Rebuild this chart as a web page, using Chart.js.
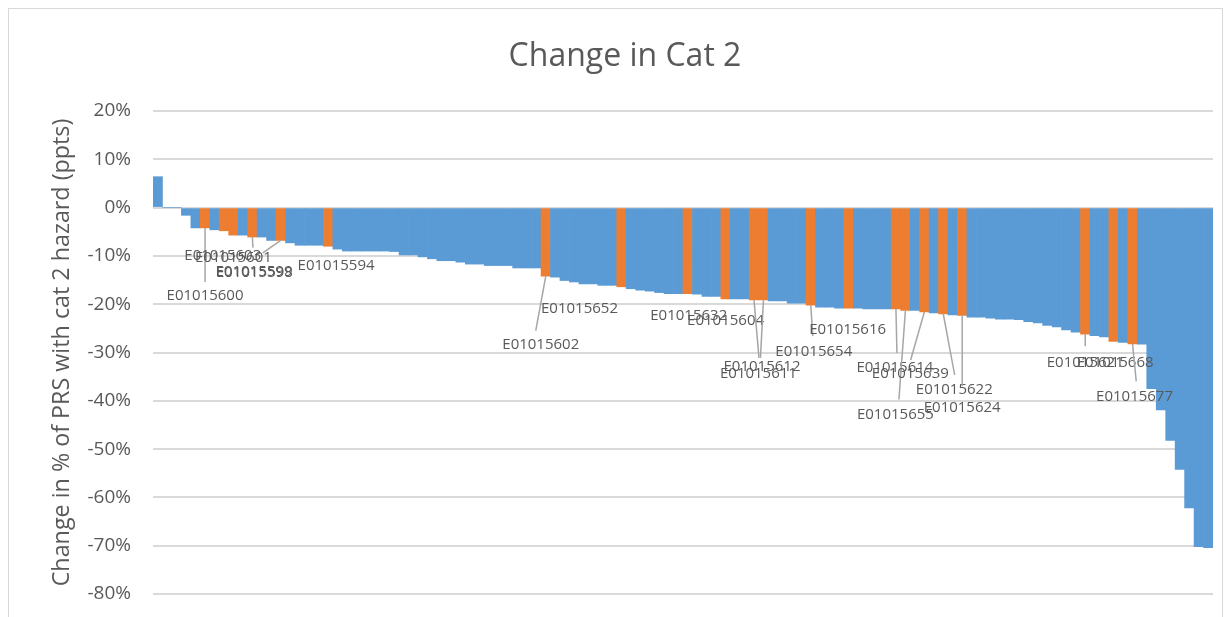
<!DOCTYPE html>
<html>
<head>
<meta charset="utf-8">
<title>Change in Cat 2</title>
<script src="https://cdn.jsdelivr.net/npm/chart.js@4.4.0/dist/chart.umd.min.js"></script>
<style>
  html, body { margin: 0; padding: 0; background: #fff; overflow: hidden; }
  canvas { display: block; }
</style>
</head>
<body>
<canvas id="chart" width="1231" height="617"></canvas>
<script>
// change in % of PRS with cat 2 hazard (ppts), one bar per area, sorted
const values = [
  6.4, 0, 0, -1.6, -4.2, -4.2, -4.6, -4.8, -5.7, -5.7,
  -6.1, -6.1, -6.8, -6.8, -7.3, -7.8, -7.8, -7.8, -8.0, -8.6,
  -9.0, -9.0, -9.0, -9.0, -9.0, -9.1, -9.8, -9.8, -10.2, -10.6,
  -11.0, -11.0, -11.3, -11.7, -11.7, -12.0, -12.0, -12.0, -12.5, -12.5,
  -12.5, -14.2, -14.4, -15.1, -15.4, -15.8, -15.8, -16.1, -16.1, -16.4,
  -16.8, -17.1, -17.3, -17.6, -17.8, -17.8, -17.8, -17.9, -18.4, -18.4,
  -18.9, -18.9, -18.9, -19.1, -19.1, -19.3, -19.3, -19.8, -19.8, -20.2,
  -20.6, -20.6, -20.8, -20.8, -20.8, -21.0, -21.0, -21.0, -21.0, -21.3,
  -21.3, -21.6, -21.8, -22.0, -22.2, -22.3, -22.7, -22.7, -22.9, -23.1,
  -23.1, -23.2, -23.6, -23.9, -24.4, -24.7, -25.3, -25.8, -26.2, -26.5,
  -26.8, -27.7, -27.9, -28.2, -28.3, -37.5, -41.9, -48.2, -54.2, -62.2,
  -70.2, -70.4
];
const categories = values.map(() => '');

// highlighted areas (orange) and their codes
const highlightIdx = [5, 7, 8, 10, 13, 18, 41, 49, 56, 60, 63, 64, 69, 73, 78, 79, 81, 83, 85, 98, 101, 103];
const highlightNames = [
  'E01015600', 'E01015599', 'E01015598', 'E01015601', 'E01015603', 'E01015594',
  'E01015602', 'E01015652', 'E01015632', 'E01015604', 'E01015612', 'E01015611',
  'E01015654', 'E01015616', 'E01015614', 'E01015655', 'E01015639', 'E01015622',
  'E01015624', 'E01015621', 'E01015668', 'E01015677'
];

const yMin = -80, yMax = 20, yStep = 10;

// label placement: [dx, dy] of label centre from bar end, [lx, ly] leader end (null = no leader)
const labelPlace = [
  [0, 68, 0, 54], [30, 41, null, null], [21, 38, null, null], [-19, 21, 0.6, 10.6],
  [-58, 15, -18, 12.5], [8, 19, null, null],
  [-5, 68.5, -10, 54.5], [-42, 22, null, null], [1, 22, null, null], [0, 22, null, null],
  [8, 67, 5, 58], [-5, 74, -3, 58], [3, 46.5, 2, 31], [-1, 22, null, null],
  [-1, 59, 1, 44], [-10, 104, -6.5, 89], [-14, 62, -13.7, 48], [11, 76, 11.4, 61],
  [0, 92, 0, 71],
  [0, 29, 0, 12], [1.5, 21, null, null], [2, 53, 3.7, 37.6]
];

const BLUE = '#5B9BD5';
const ORANGE = '#ED7D31';
const TEXT = '#595959';

const colors = values.map((v, i) => highlightIdx.includes(i) ? ORANGE : BLUE);

Chart.defaults.font.family = "'Open Sans', sans-serif";
Chart.defaults.color = TEXT;

const frameAndTitle = {
  id: 'frameAndTitle',
  beforeDraw(chart) {
    const ctx = chart.ctx;
    ctx.save();
    ctx.strokeStyle = '#d9d9d9';
    ctx.lineWidth = 1;
    ctx.strokeRect(8.5, 8.5, 1214, 700);
    ctx.restore();
  },
  afterDraw(chart) {
    const ctx = chart.ctx;
    ctx.save();
    ctx.fillStyle = TEXT;
    ctx.font = "32px 'Open Sans', sans-serif";
    ctx.textAlign = 'center';
    ctx.textBaseline = 'middle';
    ctx.fillText('Change in Cat 2', 625, 57);
    ctx.restore();
  }
};

const callouts = {
  id: 'callouts',
  afterDatasetsDraw(chart) {
    const ctx = chart.ctx;
    const meta = chart.getDatasetMeta(0);
    ctx.save();
    ctx.strokeStyle = '#a6a6a6';
    ctx.lineWidth = 1.5;
    ctx.fillStyle = TEXT;
    ctx.font = "15px 'Open Sans', sans-serif";
    ctx.textAlign = 'center';
    ctx.textBaseline = 'middle';
    highlightIdx.forEach((idx, k) => {
      const bar = meta.data[idx];
      const [dx, dy, lx, ly] = labelPlace[k];
      if (lx !== null) {
        ctx.beginPath();
        ctx.moveTo(bar.x, bar.y);
        ctx.lineTo(bar.x + lx, bar.y + ly);
        ctx.stroke();
      }
      ctx.fillText(highlightNames[k], bar.x + dx, bar.y + dy);
    });
    ctx.restore();
  }
};

new Chart(document.getElementById('chart'), {
  type: 'bar',
  data: {
    labels: categories,
    datasets: [{
      label: 'Change in Cat 2',
      data: values,
      backgroundColor: colors,
      borderWidth: 0,
      barPercentage: 1,
      categoryPercentage: 1
    }]
  },
  options: {
    responsive: false,
    animation: false,
    layout: { padding: { top: 111, right: 18, bottom: 23, left: 0 } },
    plugins: {
      legend: { display: false },
      tooltip: { enabled: false }
    },
    scales: {
      x: { display: false },
      y: {
        min: yMin,
        max: yMax,
        afterFit: (s) => {
          s.width = 153;
          s.paddingTop = 0;
          s.paddingBottom = 0;
        },
        border: { display: false },
        grid: { color: '#d9d9d9', lineWidth: 2, drawTicks: false },
        ticks: {
          stepSize: yStep,
          padding: 22,
          font: { size: 19 },
          callback: (v) => v + '%'
        },
        title: {
          display: true,
          text: 'Change in % of PRS with cat 2 hazard (ppts)',
          font: { size: 23.3 },
          padding: { top: 48 }
        }
      }
    }
  },
  plugins: [frameAndTitle, callouts]
});
</script>
</body>
</html>
